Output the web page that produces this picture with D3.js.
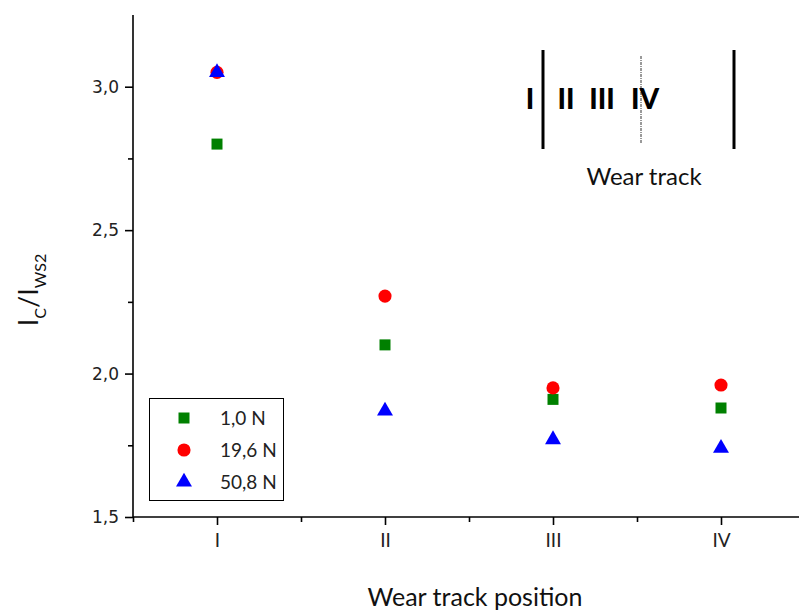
<!DOCTYPE html>
<html>
<head>
<meta charset="utf-8">
<script src="https://cdn.jsdelivr.net/npm/d3@7"></script>
<style>
  html, body { margin: 0; padding: 0; background: #fff; }
  svg { display: block; }
</style>
</head>
<body>
<svg id="chart" width="799" height="616"></svg>
<script>
// Wear track positions along the x axis
const positions = ["I", "II", "III", "IV"];

// Intensity ratio I_C / I_WS2 for each normal load
const load1_0 = [2.80, 2.10, 1.91, 1.88];
const load19_6 = [3.05, 2.27, 1.95, 1.96];
const load50_8 = [3.05, 1.87, 1.77, 1.74];

const seriesNames = ["1,0 N", "19,6 N", "50,8 N"];
const yTicks = [1.5, 2.0, 2.5, 3.0];
const yMinorTicks = [1.75, 2.25, 2.75];

const series = [
  { name: seriesNames[0], values: load1_0, color: "#008000", symbol: d3.symbolSquare, size: 121 },
  { name: seriesNames[1], values: load19_6, color: "#ff0000", symbol: d3.symbolCircle, size: 135 },
  { name: seriesNames[2], values: load50_8, color: "#0000ff", symbol: d3.symbolTriangle, size: 110 }
];

const svg = d3.select("#chart");
const plotLeft = 133, plotRight = 805, plotTop = 15, plotBottom = 517;

const x = d3.scaleLinear().domain([0.5, 4.5]).range([plotLeft, plotRight]);
const y = d3.scaleLinear().domain([1.5, 3.25]).range([plotBottom, plotTop]);

const tickFont = "'DejaVu Sans', Verdana, sans-serif";
const textFont = "Lato, 'Open Sans', sans-serif";

// Y axis with major and minor ticks
const yAxis = svg.append("g").attr("transform", `translate(${plotLeft},0)`)
  .call(d3.axisLeft(y).tickValues(yTicks).tickSize(8).tickPadding(6)
    .tickFormat(d => d3.format(".1f")(d).replace(".", ",")));
yAxis.select(".domain").attr("d", `M0,${plotBottom}V${plotTop}`);
svg.append("g").attr("transform", `translate(${plotLeft},0)`)
  .call(d3.axisLeft(y).tickValues(yMinorTicks).tickSize(5).tickFormat(""))
  .select(".domain").remove();

// X axis with major and minor ticks
const xAxis = svg.append("g").attr("transform", `translate(0,${plotBottom})`)
  .call(d3.axisBottom(x).tickValues([1, 2, 3, 4]).tickSize(8).tickPadding(9)
    .tickFormat((d, i) => positions[i]));
xAxis.select(".domain").attr("d", `M${plotLeft},0H${plotRight}`);
svg.append("g").attr("transform", `translate(0,${plotBottom})`)
  .call(d3.axisBottom(x).tickValues([0.5, 1.5, 2.5, 3.5]).tickSize(5).tickFormat(""))
  .select(".domain").remove();

svg.selectAll(".domain, .tick line").attr("stroke", "#000").attr("stroke-width", 1.6);
yAxis.selectAll(".tick text").attr("font-family", tickFont).attr("font-size", 17).attr("fill", "#222");
xAxis.selectAll(".tick text").attr("font-family", textFont).attr("font-size", 19).attr("fill", "#222");

// Data points
series.forEach(s => {
  svg.append("g").selectAll("path")
    .data(s.values)
    .join("path")
    .attr("transform", (d, i) => `translate(${x(i + 1)},${y(d)})`)
    .attr("d", d3.symbol().type(s.symbol).size(s.size))
    .attr("fill", s.color);
});

// Legend
const legend = svg.append("g");
legend.append("rect")
  .attr("x", 149.5).attr("y", 398.5).attr("width", 134).attr("height", 102)
  .attr("fill", "#fff").attr("stroke", "#000").attr("stroke-width", 1);
series.forEach((s, i) => {
  const cy = 418 + i * 32;
  legend.append("path")
    .attr("transform", `translate(184,${cy})`)
    .attr("d", d3.symbol().type(s.symbol).size(s.size))
    .attr("fill", s.color);
  legend.append("text")
    .attr("x", 220).attr("y", cy + 7)
    .attr("font-family", textFont).attr("font-size", 19).attr("fill", "#222")
    .text(s.name);
});

// Inset sketch of the wear track
const inset = svg.append("g");
inset.append("line").attr("x1", 543).attr("x2", 543).attr("y1", 50).attr("y2", 149)
  .attr("stroke", "#000").attr("stroke-width", 3);
inset.append("line").attr("x1", 734).attr("x2", 734).attr("y1", 50).attr("y2", 149)
  .attr("stroke", "#000").attr("stroke-width", 3);
inset.append("line").attr("x1", 641).attr("x2", 641).attr("y1", 56).attr("y2", 143)
  .attr("stroke", "#000").attr("stroke-width", 0.8).attr("stroke-dasharray", "3,1,1,1");
[["I", 530], ["II", 566], ["III", 602], ["IV", 645]].forEach(([t, px]) => {
  inset.append("text").attr("x", px).attr("y", 109).attr("text-anchor", "middle")
    .attr("font-family", textFont).attr("font-weight", "900")
    .attr("font-size", 28).attr("fill", "#000").text(t);
});
inset.append("text").attr("x", 644).attr("y", 185).attr("text-anchor", "middle")
  .attr("font-family", textFont).attr("font-size", 24).attr("fill", "#111").text("Wear track");

// Axis titles
svg.append("text").attr("x", 475).attr("y", 606).attr("text-anchor", "middle")
  .attr("font-family", textFont).attr("font-size", 25).attr("fill", "#111")
  .text("Wear track position");

const yTitle = svg.append("text")
  .attr("transform", "translate(38,290) rotate(-90)")
  .attr("text-anchor", "middle")
  .attr("font-family", textFont).attr("font-size", 27).attr("fill", "#111");
yTitle.append("tspan").text("I");
yTitle.append("tspan").attr("font-size", 16).attr("dy", 8).text("C");
yTitle.append("tspan").attr("dy", -8).text("/I");
yTitle.append("tspan").attr("font-size", 16).attr("dy", 8).text("WS2");
</script>
</body>
</html>
